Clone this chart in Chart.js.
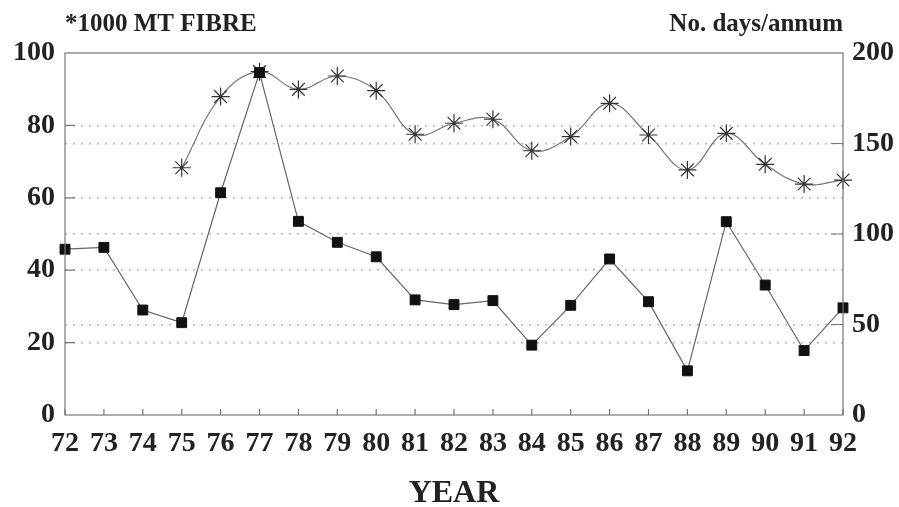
<!DOCTYPE html>
<html>
<head>
<meta charset="utf-8">
<script src="https://cdn.jsdelivr.net/npm/chart.js@4/dist/chart.umd.min.js"></script>
<style>
  body { margin: 0; background: #fff; }
  #wrap { width: 899px; height: 507px; }
</style>
</head>
<body>
<div id="wrap"><canvas id="chart"></canvas></div>
<script>
const years = ['72','73','74','75','76','77','78','79','80','81','82','83','84','85','86','87','88','89','90','91','92'];
// thousand MT fibre (left axis)
const fibre = [45.8, 46.3, 29.0, 25.5, 61.4, 94.6, 53.5, 47.7, 43.7, 31.8, 30.5, 31.6, 19.3, 30.3, 43.1, 31.3, 12.2, 53.4, 35.9, 17.8, 29.6];
// days per annum (right axis)
const days = [null, null, null, 136.6, 175.9, 189.7, 179.9, 187.3, 179.2, 155.1, 161.2, 163.4, 146.0, 153.8, 172.2, 154.7, 135.4, 155.6, 138.5, 127.6, 129.8];
const leftTicks = [0, 20, 40, 60, 80, 100];
const rightTicks = [0, 50, 100, 150, 200];

const serif = 'Liberation Serif';
const tickFont = { family: serif, size: 28, weight: 'bold' };

// frame, inward tick marks and the two unit captions
const frame = {
  id: 'frame',
  afterDraw(chart) {
    const { ctx, chartArea: a, scales } = chart;
    ctx.save();
    ctx.strokeStyle = '#777';
    ctx.lineWidth = 1.2;
    ctx.strokeRect(a.left, a.top, a.right - a.left, a.bottom - a.top);
    ctx.beginPath();
    years.forEach((y, i) => {
      const px = scales.x.getPixelForValue(i);
      ctx.moveTo(px, a.bottom);
      ctx.lineTo(px, a.bottom - 6);
    });
    leftTicks.slice(1, -1).forEach(v => {
      const py = scales.y.getPixelForValue(v);
      ctx.moveTo(a.left, py);
      ctx.lineTo(a.left + 10, py);
    });
    rightTicks.slice(1, -1).forEach(v => {
      const py = scales.y1.getPixelForValue(v);
      ctx.moveTo(a.right, py);
      ctx.lineTo(a.right - 12, py);
    });
    ctx.stroke();

    ctx.fillStyle = '#222';
    ctx.font = 'bold 25px "' + serif + '"';
    ctx.textBaseline = 'alphabetic';
    ctx.textAlign = 'left';
    ctx.fillText('*1000 MT FIBRE', a.left, 31);
    ctx.textAlign = 'right';
    ctx.fillText('No. days/annum', a.right, 31);
    ctx.restore();
  }
};

new Chart(document.getElementById('chart'), {
  type: 'line',
  data: {
    labels: years,
    datasets: [
      {
        label: 'Fibre',
        data: fibre,
        yAxisID: 'y',
        order: 0,
        borderColor: '#666',
        borderWidth: 1.2,
        tension: 0,
        pointStyle: 'rect',
        pointRadius: 7,
        pointBackgroundColor: '#111',
        pointBorderColor: '#111',
        pointBorderWidth: 1
      },
      {
        label: 'Days',
        data: days,
        yAxisID: 'y1',
        order: 1,
        borderColor: '#777',
        borderWidth: 1.2,
        tension: 0.4,
        pointStyle: 'star',
        pointRadius: 9,
        pointBorderColor: '#333',
        pointBorderWidth: 1.2
      }
    ]
  },
  options: {
    responsive: true,
    maintainAspectRatio: false,
    animation: false,
    layout: { padding: { top: 53, left: 0, right: 0, bottom: 0 } },
    plugins: {
      legend: { display: false },
      tooltip: { enabled: false }
    },
    scales: {
      x: {
        offset: false,
        grid: { display: false, drawTicks: false },
        border: { display: false },
        ticks: { color: '#222', font: tickFont, padding: 12, maxRotation: 0, autoSkip: false },
        title: {
          display: true,
          text: 'YEAR',
          color: '#222',
          font: { family: serif, size: 32, weight: 'bold' },
          padding: { top: 0, bottom: -6 }
        },
        afterFit(s) { s.height = 92; }
      },
      y: {
        position: 'left',
        min: 0,
        max: 100,
        ticks: { stepSize: 20, color: '#222', font: tickFont, padding: 10 },
        grid: {
          drawTicks: false,
          lineWidth: 1.5,
          color: c => (c.tick && c.tick.value > 0 && c.tick.value < 100) ? '#b4b4b4' : 'rgba(0,0,0,0)'
        },
        border: { display: false, dash: [2, 6] },
        afterFit(s) { s.width = 65; }
      },
      y1: {
        position: 'right',
        min: 0,
        max: 200,
        ticks: { stepSize: 50, color: '#222', font: tickFont, padding: 9 },
        grid: {
          drawTicks: false,
          lineWidth: 1.5,
          color: c => (c.tick && c.tick.value > 0 && c.tick.value < 200) ? '#b4b4b4' : 'rgba(0,0,0,0)'
        },
        border: { display: false, dash: [2, 6] },
        afterFit(s) { s.width = 56; }
      }
    }
  },
  plugins: [frame]
});
</script>
</body>
</html>
